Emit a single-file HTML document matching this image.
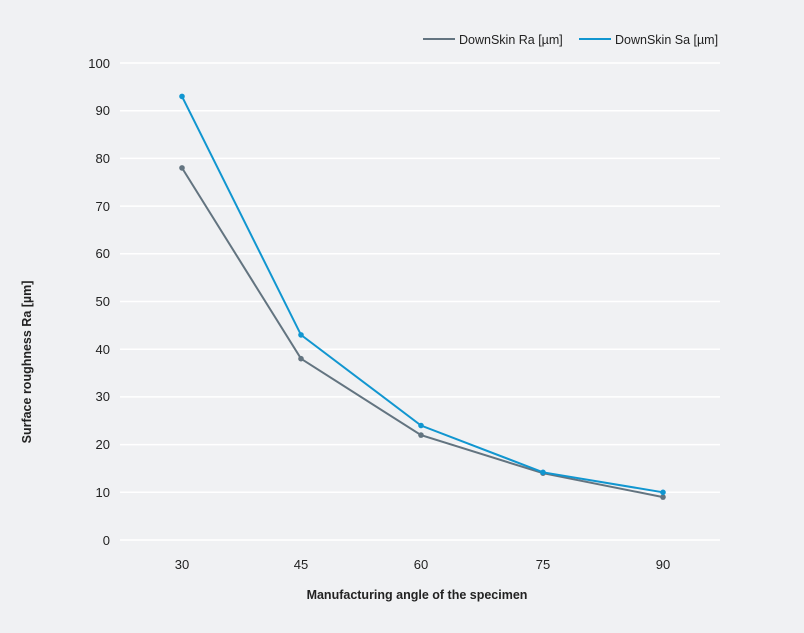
<!DOCTYPE html>
<html><head><meta charset="utf-8"><style>
html,body{margin:0;padding:0;background:#f0f1f3;}
svg{display:block;font-family:"Liberation Sans",sans-serif;}
</style></head><body>
<svg width="804" height="633" viewBox="0 0 804 633" xmlns="http://www.w3.org/2000/svg">
<rect width="804" height="633" fill="#f0f1f3"/>
<g stroke="#ffffff" stroke-width="1.5">
<line x1="120" x2="720" y1="63" y2="63"/><line x1="120" x2="720" y1="110.7" y2="110.7"/>
<line x1="120" x2="720" y1="158.4" y2="158.4"/><line x1="120" x2="720" y1="206.1" y2="206.1"/>
<line x1="120" x2="720" y1="253.8" y2="253.8"/><line x1="120" x2="720" y1="301.5" y2="301.5"/>
<line x1="120" x2="720" y1="349.2" y2="349.2"/><line x1="120" x2="720" y1="396.9" y2="396.9"/>
<line x1="120" x2="720" y1="444.6" y2="444.6"/><line x1="120" x2="720" y1="492.3" y2="492.3"/>
<line x1="120" x2="720" y1="540" y2="540"/>
</g>
<g font-size="13" fill="#222" text-anchor="end">
<text x="110" y="68">100</text><text x="110" y="115">90</text><text x="110" y="163">80</text>
<text x="110" y="211">70</text><text x="110" y="258">60</text><text x="110" y="306">50</text>
<text x="110" y="354">40</text><text x="110" y="401">30</text><text x="110" y="449">20</text>
<text x="110" y="497">10</text><text x="110" y="545">0</text>
</g>
<g font-size="13" fill="#222" text-anchor="middle">
<text x="182" y="569">30</text><text x="301" y="569">45</text><text x="421" y="569">60</text>
<text x="543" y="569">75</text><text x="663" y="569">90</text>
<text x="417" y="599" font-weight="bold" font-size="12.5">Manufacturing angle of the specimen</text>
</g>
<text transform="translate(31,362) rotate(-90)" text-anchor="middle" font-size="12.5" font-weight="bold" fill="#222">Surface roughness Ra [µm]</text>
<polyline fill="none" stroke="#637480" stroke-width="2" points="182,167.9 301,358.7 421,435.1 543,473.2 663,497.1"/>
<polyline fill="none" stroke="#1196d0" stroke-width="2" points="182,96.4 301,334.9 421,425.5 543,472.3 663,492.3"/>
<g fill="#637480"><circle cx="182" cy="167.9" r="2.8"/><circle cx="301" cy="358.7" r="2.8"/><circle cx="421" cy="435.1" r="2.8"/><circle cx="543" cy="473.2" r="2.8"/><circle cx="663" cy="497.1" r="2.8"/></g>
<g fill="#1196d0"><circle cx="182" cy="96.4" r="2.8"/><circle cx="301" cy="334.9" r="2.8"/><circle cx="421" cy="425.5" r="2.8"/><circle cx="543" cy="472.3" r="2.8"/><circle cx="663" cy="492.3" r="2.8"/></g>
<line x1="423" x2="455" y1="39" y2="39" stroke="#637480" stroke-width="2"/>
<text x="459" y="44" font-size="12.5" fill="#222">DownSkin Ra [µm]</text>
<line x1="579" x2="611" y1="39" y2="39" stroke="#1196d0" stroke-width="2"/>
<text x="615" y="44" font-size="12.5" fill="#222">DownSkin Sa [µm]</text>
</svg>
</body></html>
